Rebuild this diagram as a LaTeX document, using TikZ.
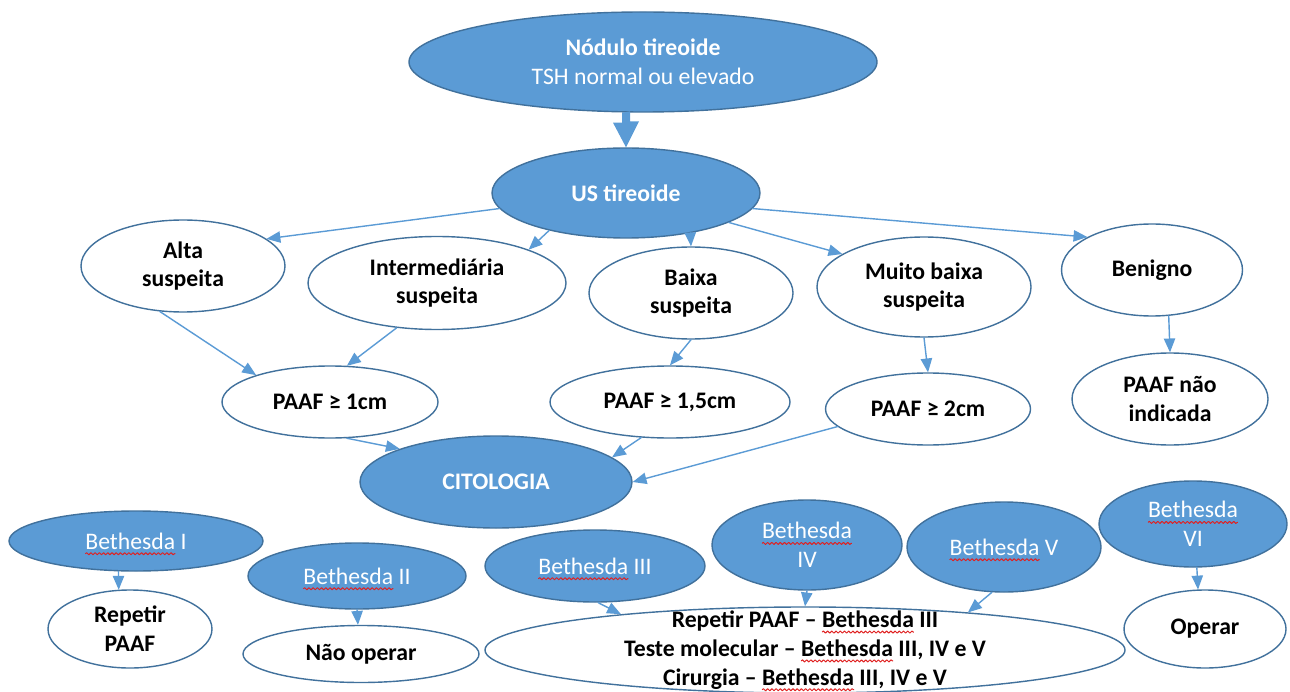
\documentclass[tikz,border=0pt]{standalone}
\usepackage{fontspec}
\setmainfont{Carlito}
\usepackage{tikz}
\usetikzlibrary{arrows,shapes.geometric,decorations.pathmorphing}
\definecolor{ofblue}{RGB}{91,155,213}
\definecolor{ofedge}{RGB}{65,113,156}
\definecolor{spellred}{RGB}{224,32,32}
\newcommand{\bet}{\tikz[baseline=(bw.base)]{\node[shape=rectangle,draw=none,fill=none,minimum width=0pt,minimum height=0pt,inner sep=0pt,outer sep=0pt] (bw) {Bethesda}; \draw[overlay,spellred,line width=0.55pt,decorate,decoration={snake,amplitude=0.6pt,segment length=2.4pt}] ([yshift=-2.6pt]bw.base west) -- ([yshift=-2.6pt]bw.base east);}}

\begin{document}
\begin{tikzpicture}[line cap=round,line join=round,>=triangle 45,x=0.02cm,y=-0.02cm,
  dark/.style={ellipse,fill=ofblue,draw=ofedge,line width=0.8pt,text=white,inner sep=0pt,align=center,font=\fontsize{13.5}{16.4}\selectfont},
  light/.style={ellipse,fill=white,draw=ofedge,line width=0.8pt,text=black,inner sep=0pt,align=center,font=\fontsize{13.5}{16.4}\selectfont\bfseries},
  sz/.style 2 args={minimum width=#1*0.02cm,minimum height=#2*0.02cm},
  link/.style={->,draw=ofblue,line width=0.8pt}]
\useasboundingbox (0,0) rectangle (1290,692);
\node[dark,sz={468}{100}] (nod) at (643,62) {\textbf{Nódulo tireoide}\\TSH normal ou elevado};
\node[dark,sz={268}{90}] (us) at (626,193) {\textbf{US tireoide}};
\node[light,sz={204}{92}] (alta) at (183,266) {Alta\\suspeita};
\node[light,sz={258}{93}] (inter) at (437,283) {Intermediária\\suspeita};
\node[light,sz={204}{92}] (baixa) at (691,293) {Baixa\\suspeita};
\node[light,sz={214}{100}] (muito) at (924,287) {Muito baixa\\suspeita};
\node[light,sz={181}{92}] (ben) at (1152,270) {Benigno};
\node[light,sz={216}{72}] (p1) at (330,402) {PAAF ≥ 1cm};
\node[light,sz={240}{72}] (p15) at (670,402) {PAAF ≥ 1,5cm};
\node[light,sz={205}{72}] (p2) at (928,409) {PAAF ≥ 2cm};
\node[light,sz={196}{92}] (pni) at (1170,399) {PAAF não\\indicada};
\node[dark,sz={272}{92}] (cit) at (496,482) {\textbf{CITOLOGIA}};
\node[dark,sz={254}{60}] (b1) at (136,541) {\bet{} I};
\node[light,sz={164}{78}] (rep) at (130,629) {Repetir\\PAAF};
\node[dark,sz={218}{66}] (b2) at (357,576) {\bet{} II};
\node[light,sz={236}{57}] (nao) at (361,654) {Não operar};
\node[dark,sz={220}{72}] (b3) at (595,566) {\bet{} III};
\node[dark,sz={190}{90}] (b4) at (807,545) {\bet\\IV};
\node[dark,sz={194}{90}] (b5) at (1004,547) {\bet{} V};
\node[dark,sz={188}{86}] (b6) at (1193,524) {\bet\\VI};
\node[light,sz={640}{86},inner ysep=-8pt] (big) at (805,650) {Repetir PAAF – \bet{} III\\Teste molecular – \bet{} III, IV e V\\Cirurgia – \bet{} III, IV e V};
\node[light,sz={162}{78}] (op) at (1205,629) {Operar};
\fill[ofblue] (us.north |- nod.south) ++(-4,0) -- ++(0,10) -- ++(-9,0) -- (us.north) -- ++(13,-26) -- ++(-9,0) -- ++(0,-10) -- cycle;
\draw[link] (us.187) -- (alta.18);
\draw[link] (us.206) -- (inter.20);
\draw[link] (us.328) -- (baixa.north);
\draw[link] (us.344) -- (muito.158);
\draw[link] (us.353) -- (ben.153);
\draw[link] (alta.243) -- (p1.160);
\draw[link] (inter.228) -- (p1.65);
\draw[link] (baixa.south) -- (p15.north);
\draw[link] (muito.south) -- (p2.north);
\draw[link] (ben.290) -- (pni.north);
\draw[link] (p1.295) -- (cit.161);
\draw[link] (p15.231) -- (cit.12);
\draw[link] (p2.191) -- (cit.east);
\draw[link] (b1.240) -- (rep.106);
\draw[link] (b2.south) -- (nao.96);
\draw[link] (b3.-85) -- (big.169);
\draw[link] (b4.south) -- (big.north);
\draw[link] (b5.255) -- (big.13);
\draw[link] (b6.-85) -- (op.100);
\end{tikzpicture}
\end{document}
